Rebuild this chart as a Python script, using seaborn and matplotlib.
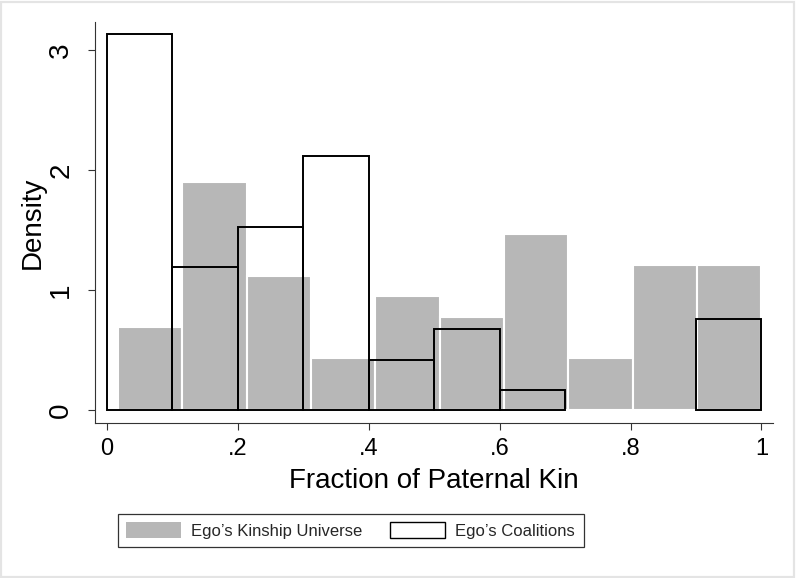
import numpy as np
import pandas as pd
import matplotlib
matplotlib.use("Agg")
import matplotlib.pyplot as plt
from matplotlib.patches import Patch, Rectangle
import seaborn as sns

# ---- data ----
kin_edges = [0.0167, 0.1150, 0.2133, 0.3117, 0.4100, 0.5083, 0.6067, 0.7050, 0.8033, 0.9017, 1.0]
kin_density = [0.69, 1.90, 1.12, 0.43, 0.95, 0.775, 1.465, 0.43, 1.21, 1.21]

coal_edges = [0.0, 0.1, 0.2, 0.3, 0.4, 0.5, 0.6, 0.7, 0.8, 0.9, 1.0]
coal_density = [3.135, 1.19, 1.525, 2.12, 0.42, 0.675, 0.167, 0.0, 0.0, 0.758]

x_ticks = [0, 0.2, 0.4, 0.6, 0.8, 1.0]
x_ticklabels = ["0", ".2", ".4", ".6", ".8", "1"]
y_ticks = [0, 1, 2, 3]
y_ticklabels = ["0", "1", "2", "3"]

labels = ["Ego\u2019s Kinship Universe", "Ego\u2019s Coalitions"]

sns.set_theme(style="white")
plt.rcParams["font.family"] = ["Liberation Sans", "DejaVu Sans"]

kin_df = pd.DataFrame({
    "x": (np.array(kin_edges[:-1]) + np.array(kin_edges[1:])) / 2,
    "w": kin_density,
})
coal_df = pd.DataFrame({
    "x": (np.array(coal_edges[:-1]) + np.array(coal_edges[1:])) / 2,
    "w": coal_density,
})

fig = plt.figure(figsize=(7.96, 5.78), dpi=100)
ax = fig.add_axes([0.1193, 0.2687, 0.8518, 0.6932])

GRAY = "#b7b7b7"
sns.histplot(data=kin_df, x="x", weights="w", bins=kin_edges, stat="count",
             color=GRAY, alpha=1, edgecolor="white", linewidth=1.5, ax=ax)
n_kin = len(ax.patches)
sns.histplot(data=coal_df, x="x", weights="w", bins=coal_edges, stat="count",
             fill=False, color="black", alpha=1, linewidth=1.4, ax=ax)
for p in ax.patches[n_kin:]:
    if p.get_height() == 0:
        p.set_visible(False)
    p.set_joinstyle("miter")

ax.set_xlim(-0.01833, 1.01757)
ax.set_ylim(-0.1058, 3.233)

for s in ["top", "right"]:
    ax.spines[s].set_visible(False)
for s in ["left", "bottom"]:
    ax.spines[s].set_color("#333333")
    ax.spines[s].set_linewidth(0.8)

ax.set_xticks(x_ticks)
ax.set_xticklabels(x_ticklabels, fontsize=17)
ax.set_yticks(y_ticks)
ax.set_yticklabels(y_ticklabels, fontsize=20, rotation=90, va="center")
ax.tick_params(axis="both", direction="out", length=5, width=0.8, color="#333333",
               labelcolor="black", bottom=True, left=True)
ax.tick_params(axis="x", pad=6)
ax.tick_params(axis="y", pad=10)

ax.set_xlabel("Fraction of Paternal Kin", fontsize=20, labelpad=6, color="black")
ax.set_ylabel("Density", fontsize=20, labelpad=2, color="black")

handles = [Patch(facecolor=GRAY, edgecolor="none"),
           Patch(facecolor="white", edgecolor="black", linewidth=1.0)]
leg = fig.legend(handles, labels, loc="center", ncol=2,
                 bbox_to_anchor=(350.5 / 796, 47.5 / 578),
                 prop={"family": ["Liberation Sans"], "size": 12},
                 frameon=True, fancybox=False, handlelength=3.3, handleheight=1.1,
                 handletextpad=0.6, columnspacing=1.7, borderpad=0.5)
frame = leg.get_frame()
frame.set_edgecolor("black")
frame.set_linewidth(0.9)

fig.patches.append(Rectangle((0.0015, 0.0025), 0.996, 0.994, transform=fig.transFigure,
                             fill=False, edgecolor="#e4e4e4", linewidth=1.6))

fig.savefig("out.png", dpi=100, facecolor="white")
